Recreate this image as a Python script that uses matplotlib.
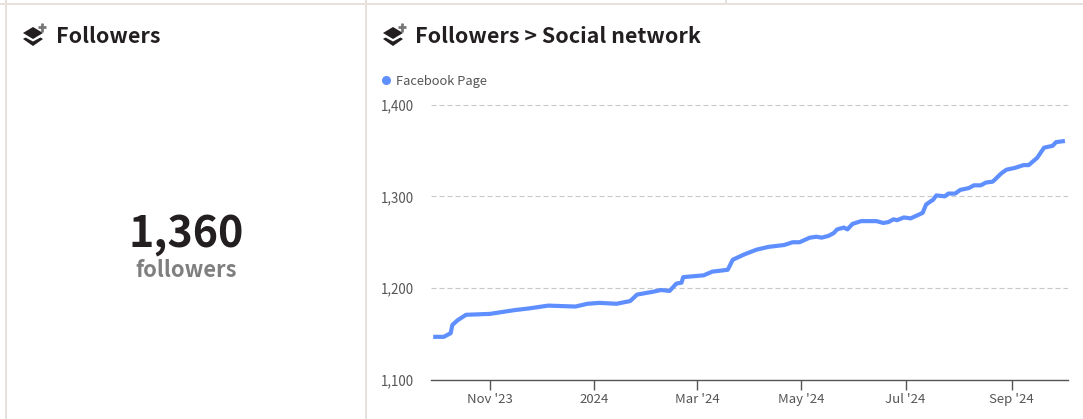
import matplotlib
matplotlib.use('Agg')
import matplotlib.pyplot as plt
import pandas as pd
from matplotlib.patches import Polygon, Rectangle

plt.rcParams['font.family'] = ['Noto Sans CJK SC', 'DejaVu Sans']

# data
dates = ['2023-09-30', '2023-10-05', '2023-10-09', '2023-10-10', '2023-10-13', '2023-10-18',
         '2023-11-01', '2023-11-15', '2023-11-24', '2023-12-05', '2023-12-21', '2023-12-28',
         '2024-01-04', '2024-01-14', '2024-01-22', '2024-01-26', '2024-02-04', '2024-02-09',
         '2024-02-14', '2024-02-18', '2024-02-21', '2024-02-22', '2024-03-05', '2024-03-10',
         '2024-03-19', '2024-03-22', '2024-03-29', '2024-04-05', '2024-04-12', '2024-04-21',
         '2024-04-26', '2024-04-30', '2024-05-06', '2024-05-10', '2024-05-13', '2024-05-17',
         '2024-05-20', '2024-05-22', '2024-05-26', '2024-05-28', '2024-05-31', '2024-06-05',
         '2024-06-14', '2024-06-18', '2024-06-21', '2024-06-24', '2024-06-26', '2024-06-30',
         '2024-07-04', '2024-07-11', '2024-07-13', '2024-07-16', '2024-07-17', '2024-07-19',
         '2024-07-24', '2024-07-26', '2024-07-30', '2024-08-02', '2024-08-07', '2024-08-10',
         '2024-08-14', '2024-08-17', '2024-08-21', '2024-08-26', '2024-08-29', '2024-09-03',
         '2024-09-08', '2024-09-11', '2024-09-16', '2024-09-20', '2024-09-25', '2024-09-27',
         '2024-10-01']
followers = [1147, 1147, 1151, 1160, 1165, 1171,
             1172, 1176, 1178, 1181, 1180, 1183,
             1184, 1183, 1186, 1193, 1196, 1198,
             1197, 1205, 1206, 1212, 1214, 1218,
             1220, 1231, 1237, 1242, 1245, 1247,
             1250, 1250, 1255, 1256, 1255, 1257,
             1260, 1264, 1266, 1264, 1270, 1273,
             1273, 1271, 1272, 1275, 1274, 1277,
             1276, 1282, 1291, 1295, 1296, 1301,
             1300, 1303, 1303, 1307, 1309, 1312,
             1312, 1315, 1316, 1325, 1329, 1331,
             1334, 1334, 1342, 1353, 1355, 1359,
             1360]

tick_dates = ['2023-11-01', '2024-01-01', '2024-03-01', '2024-05-01', '2024-07-01', '2024-09-01']
tick_labels = ["Nov '23", '2024', "Mar '24", "May '24", "Jul '24", "Sep '24"]
y_ticks = [1100, 1200, 1300, 1400]
y_labels = ['1,100', '1,200', '1,300', '1,400']

W, H = 1083, 419
BORDER = '#e6e1da'
DARK = '#231f20'
BLUE = '#5f8fff'
GREY = '#555555'

fig = plt.figure(figsize=(W / 100, H / 100), dpi=100, facecolor='white')

# overlay in pixel coords for panel frame, headings, icons
bg = fig.add_axes([0, 0, 1, 1])
bg.set_xlim(0, W)
bg.set_ylim(H, 0)
bg.axis('off')
bg.add_patch(Rectangle((0, 3), W, 2, color=BORDER, lw=0))
bg.add_patch(Rectangle((5, 0), 2, H, color=BORDER, lw=0))
bg.add_patch(Rectangle((365, 0), 2, H, color=BORDER, lw=0))
bg.add_patch(Rectangle((725, 0), 2, 4, color=BORDER, lw=0))


def layers_icon(x0):
    # stacked layers glyph with the small plus
    bg.add_patch(Polygon([(x0, 33), (x0 + 10, 27), (x0 + 20, 33), (x0 + 10, 39)], color=DARK, lw=0))
    bg.add_patch(Polygon([(x0, 39), (x0 + 2.5, 37.5), (x0 + 10, 41.5), (x0 + 17.5, 37.5), (x0 + 20, 39),
                          (x0 + 10, 46)], color=DARK, lw=0))
    bg.plot([x0 + 14.5, x0 + 23], [27.5, 27.5], color='#777777', lw=2, solid_capstyle='butt')
    bg.plot([x0 + 18.7, x0 + 18.7], [23.3, 31.7], color='#777777', lw=2, solid_capstyle='butt')


layers_icon(23)
layers_icon(383)
bg.text(56, 36.5, 'Followers', fontsize=15.4, fontweight='bold', color=DARK, va='center', ha='left')
bg.text(415, 36.5, 'Followers > Social network', fontsize=15.4, fontweight='bold', color=DARK, va='center', ha='left')
bg.text(186, 233.5, '1,360', fontsize=31, fontweight='bold', color=DARK, va='center', ha='center')
bg.text(186, 270, 'followers', fontsize=15.7, fontweight='bold', color='#7f7f7f', va='center', ha='center')
bg.plot([386], [80.5], 'o', color=BLUE, ms=6.5, mew=0)
bg.text(396, 81.5, 'Facebook Page', fontsize=9.3, color=GREY, va='center', ha='left')

# line chart
left, right, top, bottom = 431, 1068, 104.5, 380
ax = fig.add_axes([left / W, 1 - bottom / H, (right - left) / W, (bottom - top) / H])
ax.patch.set_alpha(0)
ax.plot(pd.to_datetime(dates), followers, color=BLUE, lw=3, solid_joinstyle='round', zorder=3)
ax.set_xlim(pd.Timestamp('2023-09-27 12:00'), pd.Timestamp('2024-10-04'))
ax.set_ylim(1100, 1400)

ax.set_yticks(y_ticks)
ax.set_yticklabels(y_labels, fontsize=9.6, color=GREY)
ax.set_xticks(pd.to_datetime(tick_dates))
ax.set_xticklabels(tick_labels, fontsize=9.5, color=GREY)
ax.tick_params(axis='y', length=0, pad=12.5)
ax.tick_params(axis='x', length=7.5, width=1, color='#555555', pad=1.5)
ax.yaxis.grid(True, color='#c8c8c8', lw=0.8, ls=(0, (4.5, 2.7)))
ax.set_axisbelow(True)
for s in ['top', 'left', 'right']:
    ax.spines[s].set_visible(False)
ax.spines['bottom'].set_color('#555555')
ax.spines['bottom'].set_linewidth(1)

fig.savefig('out.png', dpi=100)
